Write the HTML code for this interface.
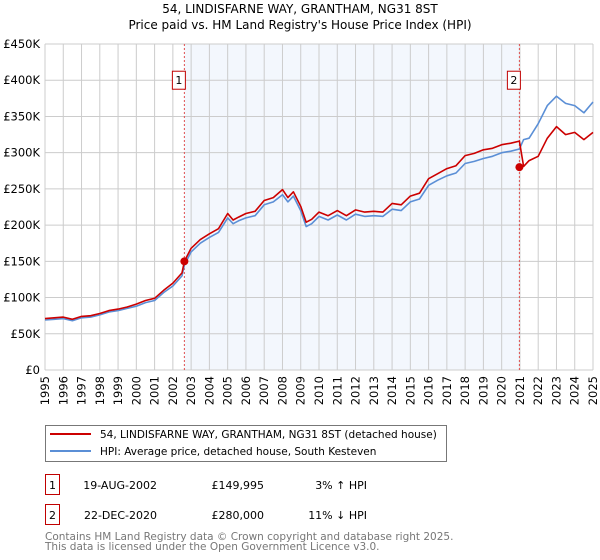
<!DOCTYPE html>
<html><head><meta charset="utf-8"><style>
body{margin:0;background:#fff;font-family:"DejaVu Sans","Liberation Sans",sans-serif;}
#wrap{position:relative;width:600px;height:560px;overflow:hidden;}
</style></head><body>
<div id="wrap">
<svg id="c" width="600" height="560" xmlns="http://www.w3.org/2000/svg" font-family="DejaVu Sans, Liberation Sans, sans-serif"></svg>
</div>
<script>
const years=[1995,1995.5,1996,1996.5,1997,1997.5,1998,1998.5,1999,1999.5,2000,2000.5,2001,2001.5,2002,2002.5,2002.63,2003,2003.5,2004,2004.5,2005,2005.3,2005.6,2006,2006.5,2007,2007.5,2008,2008.3,2008.6,2009,2009.3,2009.6,2010,2010.5,2011,2011.5,2012,2012.5,2013,2013.5,2014,2014.5,2015,2015.5,2016,2016.5,2017,2017.5,2018,2018.5,2019,2019.5,2020,2020.5,2020.97,2021.2,2021.5,2022,2022.5,2023,2023.5,2024,2024.5,2025];
const hpiValues=[69,70,71,68,72,73,76,80,82,85,88,93,96,107,116,130,145,163,175,183,190,210,202,206,210,213,228,232,242,232,240,220,198,202,212,207,214,207,215,212,213,212,222,220,232,236,255,262,268,272,285,288,292,295,300,302,305,318,320,340,365,378,368,365,355,370];
const paidValues=[71,72,73,70,74,75,78,82,84,87,91,96,99,110,120,134,150,168,180,188,195,216,207,211,216,219,234,238,249,238,246,226,204,208,218,213,220,213,221,218,219,218,230,228,240,244,264,271,278,282,296,299,304,306,311,313,316,281,289,295,320,336,325,328,318,328];
const yTicks=[0,50,100,150,200,250,300,350,400,450];
const yTickLabels=["£0","£50K","£100K","£150K","£200K","£250K","£300K","£350K","£400K","£450K"];
const xTickYears=[1995,1996,1997,1998,1999,2000,2001,2002,2003,2004,2005,2006,2007,2008,2009,2010,2011,2012,2013,2014,2015,2016,2017,2018,2019,2020,2021,2022,2023,2024,2025];
const saleYears=[2002.63,2020.97];
const salePrices=[149.995,280];
const saleLabels=["1","2"];

const L=45,R=593,T=44,B=370;
const x=v=>L+(v-1995)/30*(R-L);
const y=v=>B-v/450*(B-T);
const svg=document.getElementById('c');
const NS='http://www.w3.org/2000/svg';
function mk(tag,attrs,parent){const e=document.createElementNS(NS,tag);for(const k in attrs)e.setAttribute(k,attrs[k]);(parent||svg).appendChild(e);return e;}

// title
let t=mk('text',{x:300,y:13,'text-anchor':'middle','font-size':12,fill:'#000'});t.textContent='54, LINDISFARNE WAY, GRANTHAM, NG31 8ST';

t=mk('text',{x:300,y:29,'text-anchor':'middle','font-size':12,fill:'#000'});t.textContent="Price paid vs. HM Land Registry's House Price Index (HPI)";


// shaded region
let sh=mk('rect',{x:x(saleYears[0]),y:T,width:x(saleYears[1])-x(saleYears[0]),height:B-T,fill:'#eef3fc',opacity:0.7});


// grid
xTickYears.forEach(v=>{const g=mk('line',{x1:x(v),x2:x(v),y1:T,y2:B,stroke:'#cccccc','stroke-width':1});

const tx=mk('text',{x:0,y:0,'font-size':11.5,fill:'#000','text-anchor':'end',transform:`translate(${x(v)+4},${B+6}) rotate(-90)`});tx.textContent=v;
});
yTicks.forEach((v,i)=>{const g=mk('line',{x1:L,x2:R,y1:y(v),y2:y(v),stroke:'#cccccc','stroke-width':1});

const tx=mk('text',{x:40,y:y(v)+4,'font-size':11.5,fill:'#000','text-anchor':'end'});tx.textContent=yTickLabels[i];
});

// sale vlines
saleYears.forEach((v,i)=>{const l=mk('line',{x1:x(v),x2:x(v),y1:T,y2:B,stroke:'#e05050','stroke-width':1,'stroke-dasharray':'2,2'});

const bx=x(v)-11;const r=mk('rect',{x:bx-1,y:y(400)-9,width:13,height:18,fill:'#fff',stroke:'#c00000','stroke-width':1});

const tx=mk('text',{x:bx+5.5,y:y(400)+4,'font-size':11,'text-anchor':'middle',fill:'#000'});tx.textContent=saleLabels[i];
});

function path(vals,color,name){const d=years.map((yr,i)=>(i?'L':'M')+x(yr).toFixed(1)+','+y(vals[i]).toFixed(1)).join('');
const p=mk('path',{d:d,fill:'none',stroke:color,'stroke-width':1.6,'stroke-linejoin':'round'});
}
path(hpiValues,'#5b8fd6','hpi-line');
path(paidValues,'#cc0000','price-paid-line');
saleYears.forEach((v,i)=>{const c=mk('circle',{cx:x(v),cy:y(salePrices[i]),r:4,fill:'#cc0000'});
});

// legend
let lg=mk('rect',{x:45.5,y:425.5,width:401,height:36,fill:'#fff',stroke:'#777','stroke-width':1});

let ll=mk('line',{x1:50,x2:91,y1:434,y2:434,stroke:'#cc0000','stroke-width':2});
t=mk('text',{x:100,y:438,'font-size':10.5,fill:'#000'});t.textContent='54, LINDISFARNE WAY, GRANTHAM, NG31 8ST (detached house)';

ll=mk('line',{x1:50,x2:91,y1:451,y2:451,stroke:'#5b8fd6','stroke-width':2});
t=mk('text',{x:100,y:455,'font-size':10.5,fill:'#000'});t.textContent='HPI: Average price, detached house, South Kesteven';


// table
const rows=[["1","19-AUG-2002","£149,995","3% ↑ HPI",482],["2","22-DEC-2020","£280,000","11% ↓ HPI",512]];
rows.forEach(rw=>{const r=mk('rect',{x:45.5,y:rw[4]-7.5,width:14,height:20,fill:'#fff',stroke:'#c00000','stroke-width':1});

const a=mk('text',{x:52.5,y:rw[4]+7,'font-size':11,'text-anchor':'middle'});a.textContent=rw[0];
const b=mk('text',{x:157,y:rw[4]+7,'font-size':11,'text-anchor':'end'});b.textContent=rw[1];
const c=mk('text',{x:264,y:rw[4]+7,'font-size':11,'text-anchor':'end'});c.textContent=rw[2];
const d=mk('text',{x:367,y:rw[4]+7,'font-size':11,'text-anchor':'end'});d.textContent=rw[3];});
t=mk('text',{x:45,y:540,'font-size':10.5,fill:'#777'});t.textContent='Contains HM Land Registry data © Crown copyright and database right 2025.';

t=mk('text',{x:45,y:550,'font-size':10.5,fill:'#777'});t.textContent='This data is licensed under the Open Government Licence v3.0.';

</script>
</body></html>
